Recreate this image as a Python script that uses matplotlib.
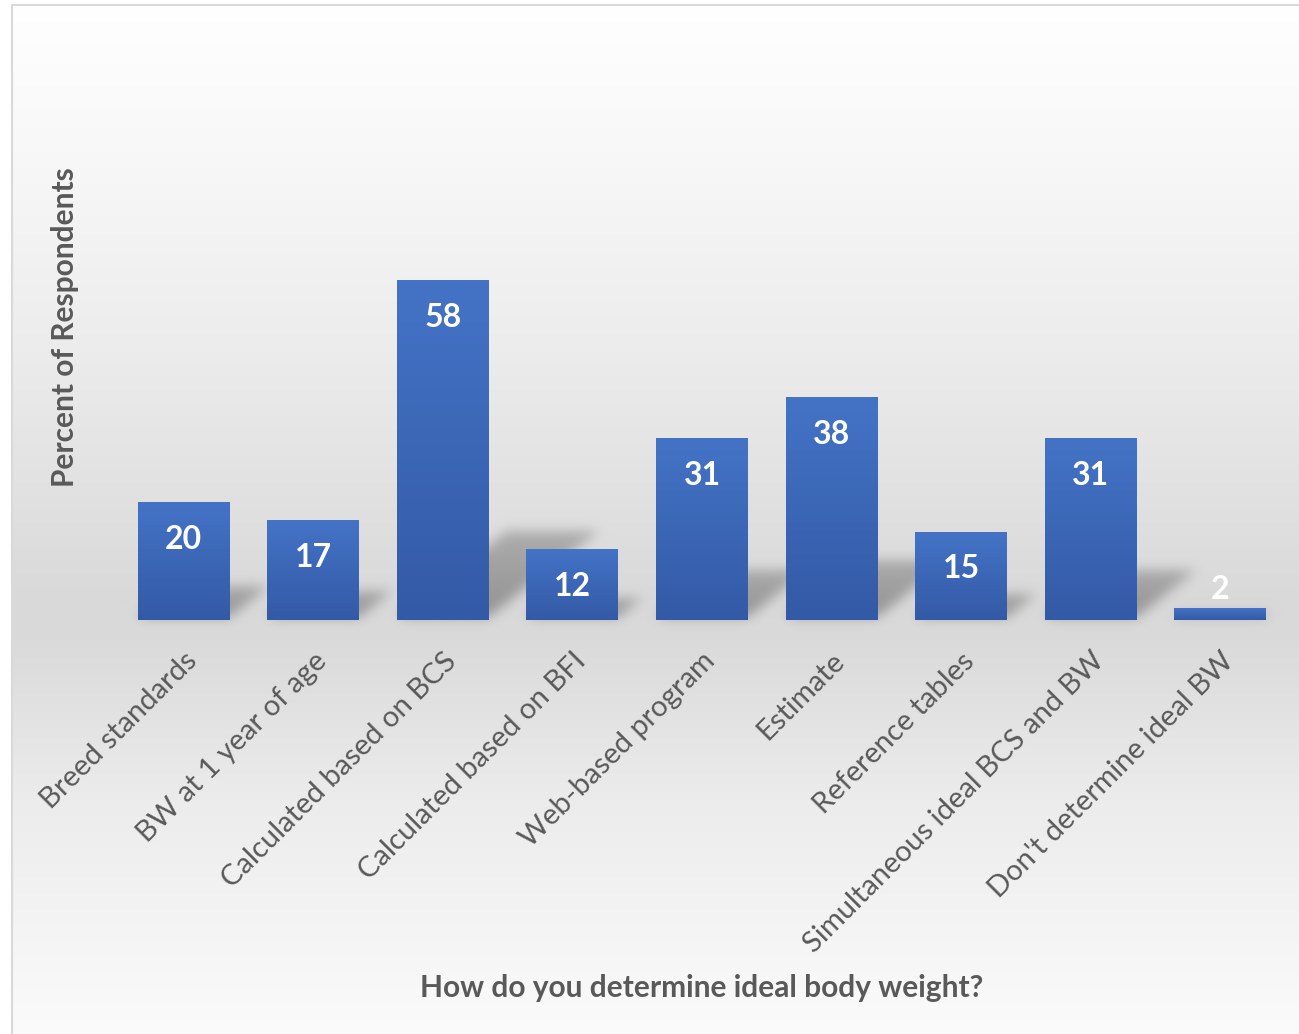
import numpy as np
import matplotlib
matplotlib.use("Agg")
import matplotlib.pyplot as plt
from matplotlib.patches import Rectangle

plt.rcParams['font.family'] = ['Lato', 'DejaVu Sans']

categories = ['Breed standards', 'BW at 1 year of age', 'Calculated based on BCS',
              'Calculated based on BFI', 'Web-based program', 'Estimate',
              'Reference tables', 'Simultaneous ideal BCS and BW',
              "Don't determine ideal BW"]
values = [20, 17, 58, 12, 31, 38, 15, 31, 2]

W, H = 1299, 1034
text_grey = '#595959'

fig = plt.figure(figsize=(W / 100, H / 100), dpi=100)

# main plot area
ax = fig.add_axes([119 / W, 414 / H, 1166 / W, 410 / H])
ax.set_xlim(-0.5, len(values) - 0.5)
ax.set_ylim(0, 70)
ax.patch.set_alpha(0)
for s in ax.spines.values():
    s.set_visible(False)
ax.set_yticks([])

bar_w = 0.71

# background gradient (mostly vertical, darkest around the baseline)
ys = np.arange(H)
prof = np.interp(ys, [0, 150, 350, 600, 640, 800, 1034],
                 [255, 248, 236, 217, 218, 236, 251]) / 255.0
img = np.ones((H, W, 3)) * prof[:, None, None]

# perspective shadows: bar squashed and skewed towards the upper right
shadow = np.zeros((H, W))
xx = np.arange(W)
for i, v in enumerate(values):
    x0d, base_d = ax.transData.transform((i - bar_w / 2, 0))
    x1d, top_d = ax.transData.transform((i + bar_w / 2, v))
    base = H - base_d - 4
    bh = top_d - base_d
    S = 0.25 * bh
    dx = 0.32 * bh
    for r in range(int(base - S), int(base) + 1):
        t = (base - r) / max(S, 1)
        xl, xr = x0d + dx * t, x1d + dx * t
        row = ((xx >= xl) & (xx <= xr)).astype(float) * (1 - 0.3 * t)
        shadow[r] = np.maximum(shadow[r], row)

sig = 6
k = np.exp(-0.5 * (np.arange(-3 * sig, 3 * sig + 1) / sig) ** 2)
k /= k.sum()
shadow = np.apply_along_axis(lambda c: np.convolve(c, k, mode='same'), 0, shadow)
shadow = np.apply_along_axis(lambda c: np.convolve(c, k, mode='same'), 1, shadow)
img = img * (1 - 0.32 * shadow[:, :, None])

# white outside the chart frame
img[:5, :] = 1.0
img[:, :12] = 1.0

bg = fig.add_axes([0, 0, 1, 1], zorder=-1)
bg.imshow(img, extent=[0, W, H, 0], aspect='auto', interpolation='bilinear')
bg.set_xlim(0, W)
bg.set_ylim(H, 0)
bg.axis('off')
fig.patches.append(Rectangle((12 / W, -0.01), 1.02, (H - 5) / H + 0.01,
                             transform=fig.transFigure, fill=False,
                             edgecolor='#d9d9d9', linewidth=1.5))

# bars with a vertical blue gradient
top_c = np.array([68, 115, 198]) / 255.0
bot_c = np.array([51, 90, 166]) / 255.0
grad = np.linspace(0, 1, 64)[:, None, None] * (bot_c - top_c) + top_c
for i, v in enumerate(values):
    ax.imshow(grad, extent=[i - bar_w / 2, i + bar_w / 2, 0, v],
              aspect='auto', interpolation='bilinear', zorder=2)
    if v > 5:
        ax.annotate(str(v), (i, v), xytext=(0, -16), textcoords='offset points',
                    ha='center', va='top', color='white', fontsize=23,
                    fontweight='bold', zorder=3)
    else:
        ax.annotate(str(v), (i, v), xytext=(0, 3), textcoords='offset points',
                    ha='center', va='bottom', color='white', fontsize=23,
                    fontweight='bold', zorder=3)
ax.set_xlim(-0.5, len(values) - 0.5)
ax.set_ylim(0, 70)

ax.set_xticks(range(len(categories)))
ax.set_xticklabels(categories, rotation=45, ha='right', rotation_mode='anchor',
                   fontsize=21, color=text_grey)
ax.tick_params(axis='x', length=0, pad=20)

fig.text(702 / W, 1 - 988 / H, 'How do you determine ideal body weight?',
         ha='center', va='center', fontsize=21.5, fontweight='bold', color=text_grey)
fig.text(65 / W, 1 - 327 / H, 'Percent of Respondents', rotation=90,
         ha='center', va='center', fontsize=21.5, fontweight='bold', color=text_grey)

fig.savefig('out.png', dpi=100)
